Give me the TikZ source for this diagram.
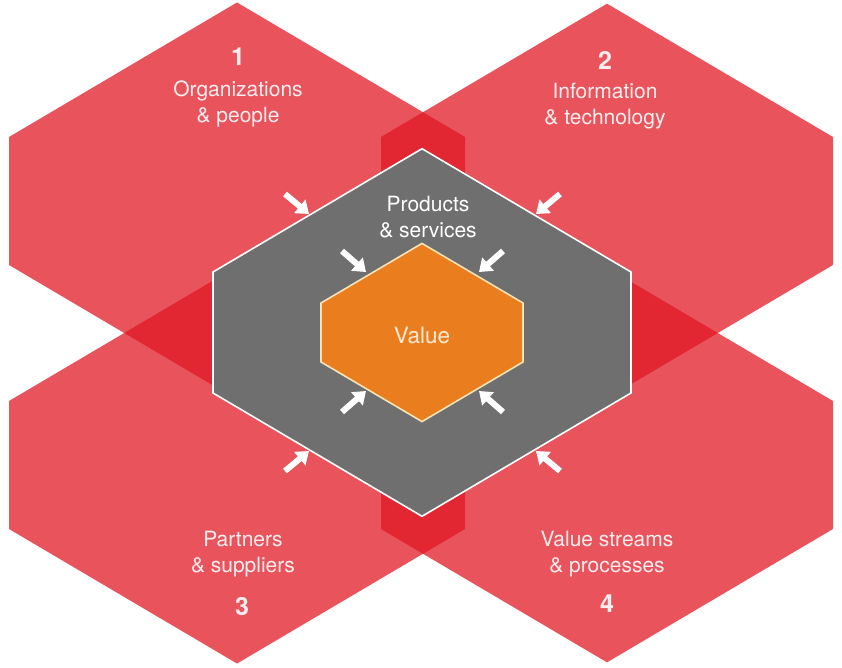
\documentclass[tikz,border=0pt]{standalone}
\usepackage{fontspec}
\setmainfont{TeX Gyre Heros}
\usetikzlibrary{arrows.meta}
\definecolor{hexred}{RGB}{224,23,36}
\definecolor{coregray}{HTML}{6F6F6F}
\definecolor{valorange}{HTML}{EA7E1F}
\definecolor{valedge}{HTML}{FBE3B5}
\definecolor{txtpink}{HTML}{FCEEEF}
\definecolor{valtext}{HTML}{FDEBD3}

% pointy-top hexagon: centre (#1,#2), half width #3, half side #4
\newcommand{\hexpath}[4]{%
  (#1,#2-#4-0.59*#3) -- (#1+#3,#2-#4) -- (#1+#3,#2+#4) --
  (#1,#2+#4+0.59*#3) -- (#1-#3,#2+#4) -- (#1-#3,#2-#4) -- cycle}

\begin{document}
\begin{tikzpicture}[x=1pt, y=-1pt,
  dimtext/.style={text=txtpink, align=center, font=\fontsize{21}{26}\selectfont},
  numtext/.style={text=txtpink, font=\fontsize{25}{26}\selectfont\bfseries},
  inarrow/.style={white, line width=6pt, -{Triangle[length=12pt, width=17pt]}}]

% Canvas
\useasboundingbox (0,0) rectangle (842,668);
\fill[white] (0,0) rectangle (842,668);

% Four dimensions (transparent, so overlaps come out darker)
\fill[hexred, opacity=0.74] \hexpath{237}{201}{228}{64};
\fill[hexred, opacity=0.74] \hexpath{607}{201}{226}{64};
\fill[hexred, opacity=0.74] \hexpath{237}{465}{228}{64};
\fill[hexred, opacity=0.74] \hexpath{607}{465}{226}{64};

% Products & services, then value
\filldraw[coregray, draw=white, line width=1.6pt] \hexpath{422}{332.5}{209}{60.5};
\filldraw[valorange, draw=valedge, line width=1.6pt] \hexpath{422}{332.5}{101}{29.5};

% Labels
\node[numtext] (num1) at (238,57) {1};
\node[dimtext] (orgs) at (238,104) {Organizations\\\& people};
\node[numtext] (num2) at (605,60) {2};
\node[dimtext] (info) at (605,106) {Information\\\& technology};
\node[dimtext] (partners) at (243,554) {Partners\\\& suppliers};
\node[numtext] (num3) at (242,607) {3};
\node[dimtext] (streams) at (607,554) {Value streams\\\& processes};
\node[numtext] (num4) at (607,604) {4};
\node[dimtext, text=white] (products) at (428,217) {Products\\\& services};
\node[text=valtext, font=\fontsize{22.5}{24}\selectfont] (value) at (422,335) {Value};

% Arrows pointing inwards
\foreach \n/\tx/\ty/\hx/\hy in {
    otl/285/194/309/214, otr/560/194/536/214,
    obl/285/471/309/451, obr/560/471/536/451,
    itl/342/251/366/272, itr/503/251/479/272,
    ibl/342/412/366/391, ibr/503/412/479/391} {
  \coordinate (\n-tail) at (\tx,\ty);
  \coordinate (\n-tip) at (\hx,\hy);
  \draw[inarrow] (\n-tail) -- (\n-tip);
}

\end{tikzpicture}
\end{document}
